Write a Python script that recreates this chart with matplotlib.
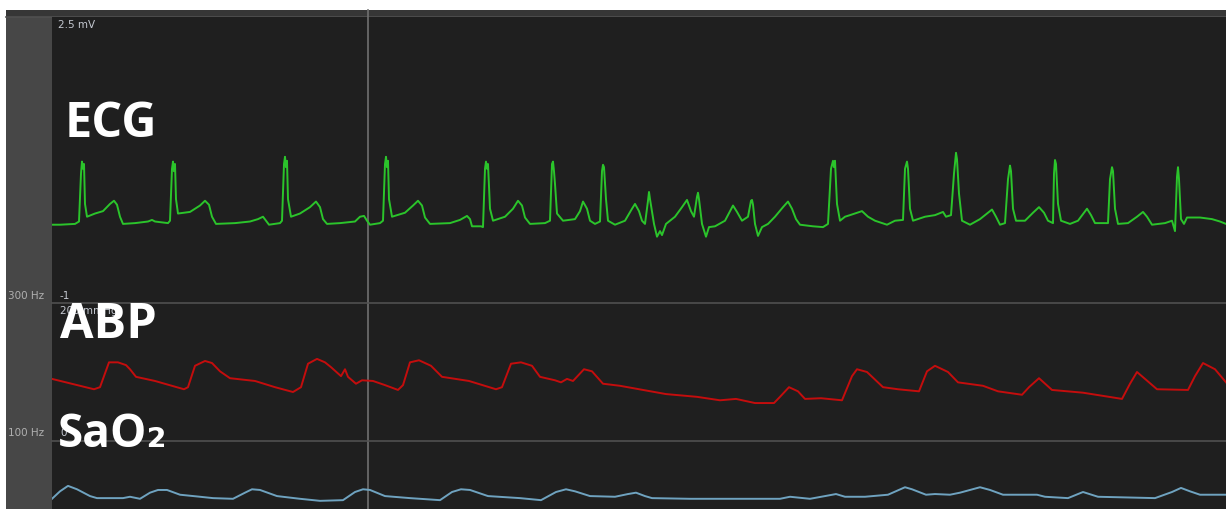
import matplotlib
matplotlib.use('Agg')
import matplotlib.pyplot as plt
from matplotlib.patches import Rectangle

plt.rcParams['font.family'] = ['Open Sans', 'DejaVu Sans']

W, H = 1226, 510

# seconds from the left edge of the strip
T_END = 11.74
CURSOR_T = 3.16

# ECG lead, mV
ECG_T = [
    0.00, 0.08, 0.23, 0.27, 0.29, 0.30, 0.31, 0.32, 0.33, 0.35, 0.43, 0.51, 0.58, 0.62, 0.65, 0.68, 0.71,
    0.83, 0.96, 1.00, 1.03, 1.16, 1.18, 1.20, 1.21, 1.22, 1.23, 1.24, 1.26, 1.38, 1.48, 1.53, 1.57, 1.60,
    1.64, 1.83, 1.98, 2.06, 2.11, 2.14, 2.17, 2.28, 2.30, 2.32, 2.33, 2.34, 2.35, 2.36, 2.39, 2.48, 2.58,
    2.64, 2.68, 2.71, 2.75, 2.88, 3.03, 3.08, 3.12, 3.15, 3.18, 3.28, 3.31, 3.33, 3.34, 3.35, 3.36, 3.37,
    3.40, 3.53, 3.61, 3.66, 3.70, 3.73, 3.78, 3.98, 4.08, 4.15, 4.18, 4.20, 4.29, 4.31, 4.33, 4.34, 4.35,
    4.36, 4.38, 4.41, 4.53, 4.61, 4.66, 4.70, 4.73, 4.78, 4.93, 4.98, 5.00, 5.01, 5.02, 5.03, 5.05, 5.11,
    5.23, 5.28, 5.31, 5.35, 5.38, 5.43, 5.48, 5.50, 5.51, 5.52, 5.54, 5.56, 5.63, 5.73, 5.80, 5.83, 5.87,
    5.90, 5.93, 5.96, 5.97, 5.98, 6.02, 6.05, 6.08, 6.10, 6.14, 6.23, 6.30, 6.35, 6.39, 6.42, 6.45, 6.46,
    6.47, 6.50, 6.54, 6.57, 6.63, 6.73, 6.78, 6.81, 6.85, 6.90, 6.96, 6.99, 7.00, 7.01, 7.03, 7.06, 7.10,
    7.16, 7.23, 7.31, 7.36, 7.40, 7.44, 7.48, 7.61, 7.71, 7.76, 7.79, 7.81, 7.82, 7.83, 7.85, 7.88, 7.93,
    7.98, 8.10, 8.16, 8.23, 8.35, 8.43, 8.51, 8.53, 8.55, 8.56, 8.58, 8.61, 8.73, 8.83, 8.91, 8.94, 8.99,
    9.02, 9.04, 9.05, 9.07, 9.10, 9.18, 9.28, 9.36, 9.40, 9.44, 9.48, 9.53, 9.56, 9.58, 9.59, 9.61, 9.64,
    9.73, 9.81, 9.87, 9.92, 9.96, 10.01, 10.02, 10.03, 10.04, 10.06, 10.09, 10.18, 10.26, 10.32, 10.35,
    10.39, 10.43, 10.56, 10.58, 10.60, 10.61, 10.63, 10.66, 10.76, 10.85, 10.91, 10.95, 11.00, 11.13,
    11.20, 11.23, 11.25, 11.26, 11.27, 11.29, 11.32, 11.35, 11.48, 11.60, 11.68, 11.74,
]
ECG_MV = [
    -0.01, -0.01, 0.00, 0.03, 0.63, 0.78, 0.69, 0.75, 0.25, 0.09, 0.13, 0.16, 0.25, 0.29, 0.24, 0.09, 0.00,
    0.01, 0.03, 0.05, 0.03, 0.01, 0.04, 0.69, 0.78, 0.66, 0.75, 0.31, 0.13, 0.15, 0.23, 0.29, 0.24, 0.09,
    0.00, 0.01, 0.03, 0.06, 0.09, 0.04, -0.01, 0.01, 0.04, 0.75, 0.84, 0.71, 0.79, 0.31, 0.09, 0.13, 0.21,
    0.28, 0.21, 0.06, 0.00, 0.01, 0.03, 0.09, 0.10, 0.04, -0.01, 0.01, 0.04, 0.75, 0.84, 0.71, 0.79, 0.31,
    0.09, 0.14, 0.23, 0.29, 0.23, 0.08, 0.00, 0.01, 0.05, 0.10, 0.06, -0.03, -0.03, -0.04, 0.69, 0.78, 0.69,
    0.75, 0.19, 0.04, 0.09, 0.19, 0.29, 0.23, 0.08, 0.00, 0.01, 0.04, 0.75, 0.78, 0.66, 0.50, 0.13, 0.04,
    0.06, 0.16, 0.28, 0.19, 0.04, 0.00, 0.03, 0.66, 0.74, 0.71, 0.31, 0.04, -0.01, 0.04, 0.19, 0.25, 0.16,
    0.04, 0.00, 0.29, 0.40, 0.31, 0.00, -0.16, -0.09, -0.14, 0.00, 0.09, 0.21, 0.30, 0.16, 0.09, 0.34, 0.39,
    0.31, 0.00, -0.16, -0.04, -0.03, 0.04, 0.16, 0.23, 0.15, 0.04, 0.09, 0.29, 0.30, 0.24, 0.00, -0.15, -0.04,
    0.00, 0.09, 0.21, 0.28, 0.19, 0.06, -0.01, -0.03, -0.04, 0.00, 0.69, 0.79, 0.71, 0.79, 0.25, 0.04, 0.09,
    0.11, 0.16, 0.09, 0.04, -0.01, 0.04, 0.05, 0.69, 0.78, 0.69, 0.19, 0.04, 0.09, 0.11, 0.15, 0.09, 0.11,
    0.63, 0.89, 0.81, 0.38, 0.04, -0.01, 0.06, 0.14, 0.18, 0.09, -0.01, 0.01, 0.56, 0.73, 0.66, 0.19, 0.04,
    0.04, 0.14, 0.21, 0.14, 0.04, 0.01, 0.63, 0.80, 0.75, 0.25, 0.04, 0.00, 0.04, 0.14, 0.19,
    0.11, 0.01, 0.01, 0.56, 0.71, 0.66, 0.19, 0.00, 0.01, 0.09, 0.15, 0.09, -0.01, 0.01,
    0.04, -0.09, 0.59, 0.71, 0.56, 0.06, 0.00, 0.08, 0.08, 0.06, 0.03, 0.00,
]

# arterial blood pressure, mmHg
ABP_T = [
    0.00, 0.42, 0.48, 0.57, 0.66, 0.74, 0.78, 0.84, 1.03, 1.32, 1.36, 1.43, 1.53, 1.60, 1.68, 1.78, 2.03,
    2.23, 2.41, 2.49, 2.56, 2.65, 2.73, 2.79, 2.89, 2.93, 2.96, 3.04, 3.10, 3.21, 3.33, 3.46, 3.51, 3.58,
    3.67, 3.79, 3.90, 4.17, 4.44, 4.50, 4.59, 4.69, 4.80, 4.88, 5.03, 5.09, 5.15, 5.21, 5.32, 5.40, 5.51,
    5.68, 5.91, 6.14, 6.45, 6.68, 6.84, 7.03, 7.22, 7.28, 7.37, 7.46, 7.53, 7.69, 7.90, 8.00, 8.05, 8.15,
    8.31, 8.46, 8.67, 8.75, 8.83, 8.96, 9.06, 9.31, 9.46, 9.70, 9.77, 9.87, 10.00, 10.31, 10.70, 10.78,
    10.85, 11.05, 11.36, 11.43, 11.51, 11.63, 11.74,
]
ABP_MMHG = [
    90, 75, 78, 114, 114, 110, 104, 93, 87, 75, 78, 109, 116, 113, 101, 91, 87,
    78, 71, 78, 112, 119, 114, 107, 94, 104, 93, 83, 88, 87, 81, 74, 81, 114,
    117, 109, 93, 87, 75, 78, 112, 114, 109, 93, 88, 85, 90, 87, 104, 101, 83,
    80, 74, 68, 64, 59, 61, 55, 55, 64, 78, 72, 61, 62, 59, 94, 104, 100,
    78, 75, 72, 101, 109, 100, 85, 80, 72, 67, 78, 91, 74, 70, 61, 83,
    100, 75, 74, 94, 113, 104, 85,
]

# pulse oximeter pleth, arbitrary units
SAO2_T = [
    0.00, 0.08, 0.16, 0.25, 0.38, 0.45, 0.71, 0.78, 0.88, 0.98, 1.06, 1.15, 1.28, 1.48, 1.61, 1.81, 1.93,
    2.00, 2.08, 2.25, 2.48, 2.68, 2.91, 3.03, 3.11, 3.18, 3.33, 3.58, 3.88, 4.00, 4.09, 4.18, 4.36, 4.68,
    4.89, 5.04, 5.14, 5.23, 5.38, 5.63, 5.76, 5.84, 5.93, 6.00, 6.38, 7.28, 7.38, 7.58, 7.73, 7.84, 7.93,
    8.13, 8.36, 8.53, 8.60, 8.74, 8.83, 8.98, 9.08, 9.28, 9.38, 9.51, 9.85, 9.93, 10.16, 10.31, 10.46,
    11.03, 11.20, 11.29, 11.38, 11.48, 11.74,
]
SAO2_AU = [
    0.15, 0.26, 0.34, 0.29, 0.19, 0.16, 0.16, 0.18, 0.15, 0.24, 0.28, 0.28, 0.21, 0.18, 0.16, 0.15, 0.24,
    0.29, 0.28, 0.19, 0.15, 0.12, 0.13, 0.25, 0.29, 0.28, 0.19, 0.16, 0.13, 0.25, 0.29, 0.28, 0.19, 0.16,
    0.13, 0.25, 0.29, 0.26, 0.19, 0.18, 0.22, 0.24, 0.19, 0.16, 0.15, 0.15, 0.18, 0.15, 0.19, 0.22, 0.18,
    0.18, 0.21, 0.32, 0.29, 0.21, 0.22, 0.21, 0.24, 0.32, 0.28, 0.21, 0.21, 0.18, 0.16, 0.25, 0.18,
    0.16, 0.25, 0.31, 0.26, 0.21, 0.21,
]

BG = '#1f1f1f'
PANEL = '#474747'
BAND = '#363636'
SEP = '#505050'
CURSOR = '#707070'


def box(x0, y0, x1, y1):
    # pixel box, origin top-left -> figure fraction rect
    return [x0 / W, 1 - y1 / H, (x1 - x0) / W, (y1 - y0) / H]


def label(x, y, s, **kw):
    plt.figtext(x / W, 1 - y / H, s, **kw)


fig = plt.figure(figsize=(W / 100, H / 100), dpi=100, facecolor='white')

back = fig.add_axes([0, 0, 1, 1])
back.set_xlim(0, W)
back.set_ylim(H, 0)
back.axis('off')
back.add_patch(Rectangle((6, 11), W - 6, H - 11, color=BG, lw=0))
back.add_patch(Rectangle((6, 11), 46, H - 11, color=PANEL, lw=0))
back.add_patch(Rectangle((6, 11), W - 6, 7, color=BAND, lw=0))
back.plot([6, W], [18, 18], color=SEP, lw=1.2)

panels = [
    (box(52, 18, W, 304), ECG_T, ECG_MV, '#2bc42b', (-0.99, 2.59)),
    (box(52, 304, W, 442), ABP_T, ABP_MMHG, '#c40d0d', (0, 200)),
    (box(52, 442, W, H), SAO2_T, SAO2_AU, '#6fa3c0', (0, 1)),
]
for i, (rect, t, v, color, ylim) in enumerate(panels):
    ax = fig.add_axes(rect, facecolor=BG)
    ax.plot(t, v, color=color, lw=1.4, solid_joinstyle='round')
    # the cursor runs up through the header band on the top panel
    top = 1 + 7 / 286 if i == 0 else 1
    ax.axvline(CURSOR_T, ymax=top, color=CURSOR, lw=1.2, zorder=0, clip_on=False)
    ax.set_xlim(0, T_END)
    ax.set_ylim(*ylim)
    ax.set_xticks([])
    ax.set_yticks([])
    for name, sp in ax.spines.items():
        sp.set_visible(name == 'top' and i > 0)
        sp.set_color(SEP)
        sp.set_linewidth(1.2)

small = dict(fontsize=7.5, family='DejaVu Sans', va='center')
label(58, 25, '2.5 mV', color='#c4c8d0', **small)
label(8, 296, '300 Hz', color='#b0b0b0', **small)
label(60, 296, '-1', color='#c4c8d0', **small)
label(60, 311, '200 mmHg', color='#c4c8d0', **small)
label(8, 433, '100 Hz', color='#b0b0b0', **small)
label(60, 433, '0', color='#c4c8d0', **small)

big = dict(color='white', fontweight='bold', va='baseline', zorder=10)
label(65, 137, 'ECG', fontsize=35, **big)
label(60, 338, 'ABP', fontsize=35, **big)
label(58, 447, 'SaO₂', fontsize=33, **big)

fig.savefig('out.png', dpi=100, facecolor='white')
